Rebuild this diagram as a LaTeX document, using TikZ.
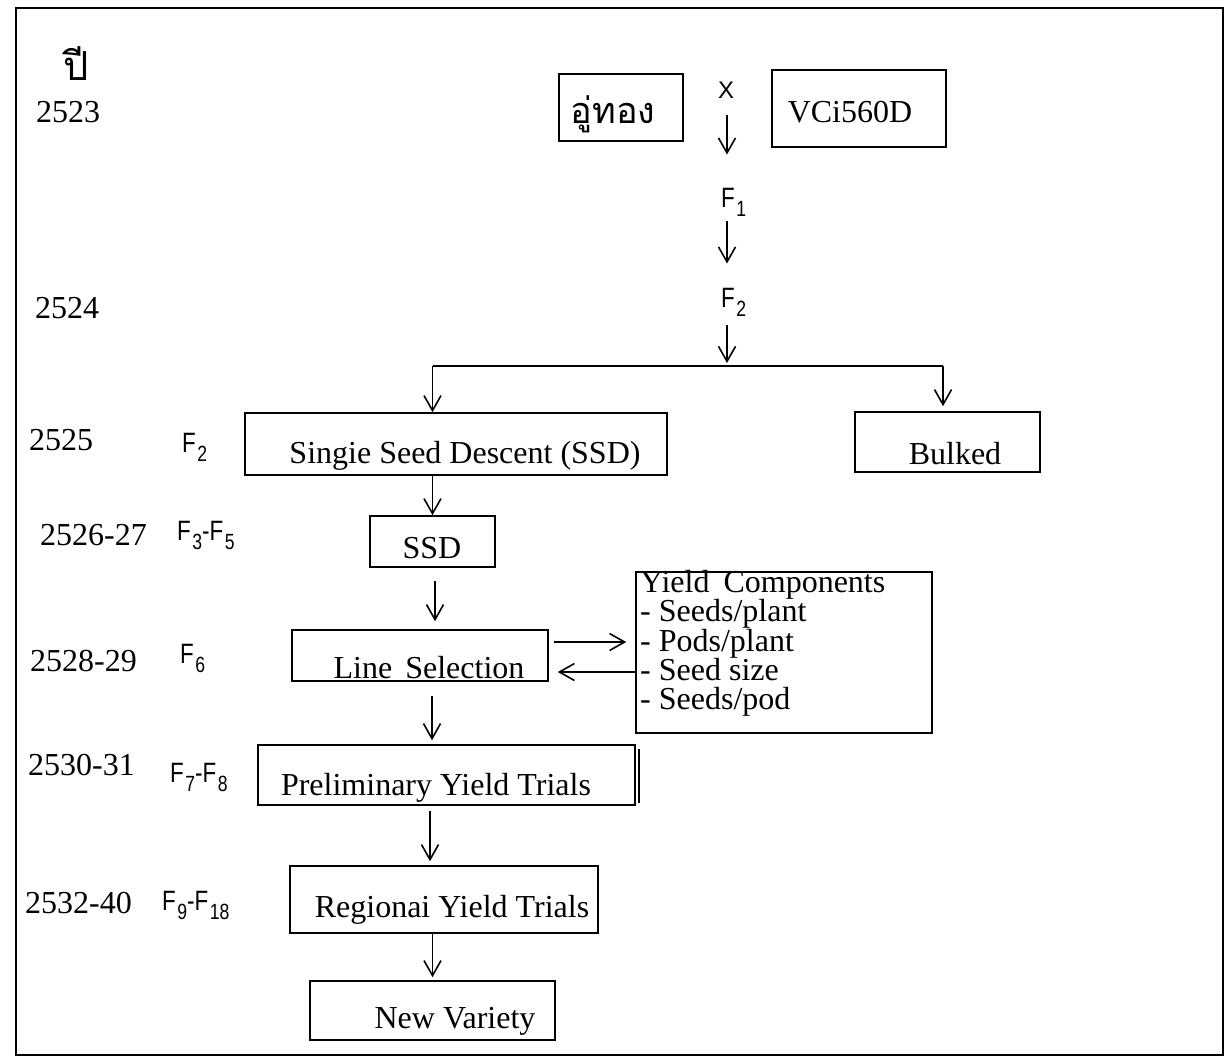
\documentclass[tikz,border=0pt]{standalone}
\usepackage{fontspec}
\setmainfont{Liberation Serif}
\newfontfamily\fsans[FakeStretch=0.8]{Liberation Sans}
\newfontfamily\xsans{Liberation Sans}
\newfontfamily\thaifont[Script=Thai]{Loma}
\usetikzlibrary{arrows.meta}
\newcommand{\Fg}[1]{F\kern1.5pt\raisebox{-9pt}{\fontsize{22}{22}\selectfont #1}}
\begin{document}
\begin{tikzpicture}[x=1pt,y=-1pt,
 box/.style={draw, line width=1.6pt, inner sep=0pt},
 txt/.style={inner sep=0pt, anchor=base, font=\fontsize{32}{36}\selectfont},
 yr/.style={inner sep=0pt, anchor=base west, font=\fontsize{32}{36}\selectfont},
 gen/.style={inner sep=0pt, anchor=base west, font=\fsans\fontsize{28}{30}\selectfont},
 arr/.style={line width=1.6pt, -{Straight Barb[length=15pt,width=17pt]}},
 ln/.style={line width=1.6pt}]
\useasboundingbox (0,0) rectangle (1226,1058);
\draw[ln] (16,8) rectangle (1223,1055);

% year column
\node[inner sep=0pt, anchor=base west, font=\thaifont\fontsize{40}{44}\selectfont] (pee) at (63,80) {ปี};
\node[yr] (y1) at (36,122) {2523};
\node[yr] (y2) at (35,318) {2524};
\node[yr] (y3) at (29,450) {2525};
\node[yr] (y4) at (40,545) {2526-27};
\node[yr] (y5) at (30,671) {2528-29};
\node[yr] (y6) at (28,775) {2530-31};
\node[yr] (y7) at (25,913) {2532-40};

% generation column
\node[gen] (g3) at (182,452) {\Fg{2}};
\node[gen] (g4) at (177,540) {\Fg{3}-\Fg{5}};
\node[gen] (g5) at (180,663) {\Fg{6}};
\node[gen] (g6) at (170,782) {\Fg{7}-\Fg{8}};
\node[gen] (g7) at (162,910) {\Fg{9}-\Fg{18}};

% parents
\node[box, minimum width=124pt, minimum height=67pt] (thai) at (621,107.5) {};
\node[inner sep=0pt, anchor=base, font=\thaifont\fontsize{36}{40}\selectfont] (thaiT) at (613,123) {อู่ทอง};
\node[box, minimum width=174pt, minimum height=77pt] (vc) at (859,108.5) {};
\node[txt] (vcT) at (850,122) {VCi560D};
\node[inner sep=0pt, anchor=base, font=\xsans\fontsize{24}{26}\selectfont] (X) at (726,98) {X};

\node[gen] (F1) at (721,207) {\Fg{1}};
\node[gen] (F2) at (721,307) {\Fg{2}};
\coordinate (bus) at (727,366);

% boxes
\node[box, minimum width=422pt, minimum height=62pt] (ssdbig) at (456,444) {};
\node[txt] (ssdbigT) at (465,463) {Singie Seed Descent (SSD)};
\node[box, minimum width=185pt, minimum height=60pt] (bulked) at (947.5,442) {};
\node[txt] (bulkedT) at (955,464) {Bulked};
\coordinate (bulkin) at ([xshift=-4.5pt]bulked.north);
\node[box, minimum width=125pt, minimum height=51pt] (ssd) at (432.5,541.5) {};
\node[txt] (ssdT) at (432,558) {SSD};
\node[box, minimum width=256pt, minimum height=51pt] (line) at (420,655.5) {};
\node[txt] (lineT) at (429,678) {Line\hspace{5pt} Selection};
\node[box, minimum width=296pt, minimum height=161pt] (yc) at (784,652.5) {};
\node[inner sep=0pt, anchor=north west, align=left, font=\fontsize{32}{29.3}\selectfont] (ycT) at (640,570)
 {Yield\hspace{6pt} Components\\- Seeds/plant\\- Pods/plant\\- Seed size\\- Seeds/pod};
\node[box, minimum width=377pt, minimum height=60pt] (prelim) at (446.5,775) {};
\draw[ln] ([xshift=3pt,yshift=-5pt]prelim.north east) -- ([xshift=3pt,yshift=3pt]prelim.south east);
\node[txt] (prelimT) at (436,795) {Preliminary Yield Trials};
\node[box, minimum width=308pt, minimum height=67pt] (regional) at (444,899.5) {};
\node[txt] (regionalT) at (452,917) {Regionai Yield Trials};
\node[box, minimum width=245pt, minimum height=59pt] (newvar) at (432.5,1010.5) {};
\node[txt] (newvarT) at (455,1028) {New Variety};

% connectors
\draw[arr, shorten <=17pt, shorten >=33pt] (X.south -| bus) -- (F1.north -| bus);
\draw[arr, shorten <=5pt, shorten >=24pt] (F1.south -| bus) -- (F2.north -| bus);
\draw[arr, shorten <=9pt, shorten >=3pt] (F2.south -| bus) -- (bus);
\draw[ln] (bus -| ssd.north) -- (bus -| bulkin);
\draw[arr] (bus -| ssd.north) -- (ssdbig.north -| ssd.north);
\draw[arr, shorten >=5pt] (bus -| bulkin) -- (bulkin);
\draw[arr] (ssdbig.south -| ssd.north) -- (ssd.north);
\draw[arr, shorten <=13pt, shorten >=8pt] ([xshift=2.5pt]ssd.south) -- ([xshift=2.5pt]ssd.south |- line.north);
\draw[arr, shorten <=5pt, shorten >=9pt] ([yshift=13.5pt]line.east) -- ([yshift=13.5pt]line.east -| yc.west);
\draw[arr, shorten >=9pt] ([yshift=-16.5pt]line.east -| yc.west) -- ([yshift=-16.5pt]line.east);
\draw[arr, shorten <=14pt, shorten >=4pt] ([xshift=12pt]line.south) -- ([xshift=12pt]line.south |- prelim.north);
\draw[arr, shorten <=5pt, shorten >=4pt] ([xshift=-16.5pt]prelim.south) -- ([xshift=-16.5pt]prelim.south |- regional.north);
\draw[arr, shorten >=3pt] (regional.south -| newvar.north) -- (newvar.north);
\end{tikzpicture}
\end{document}
